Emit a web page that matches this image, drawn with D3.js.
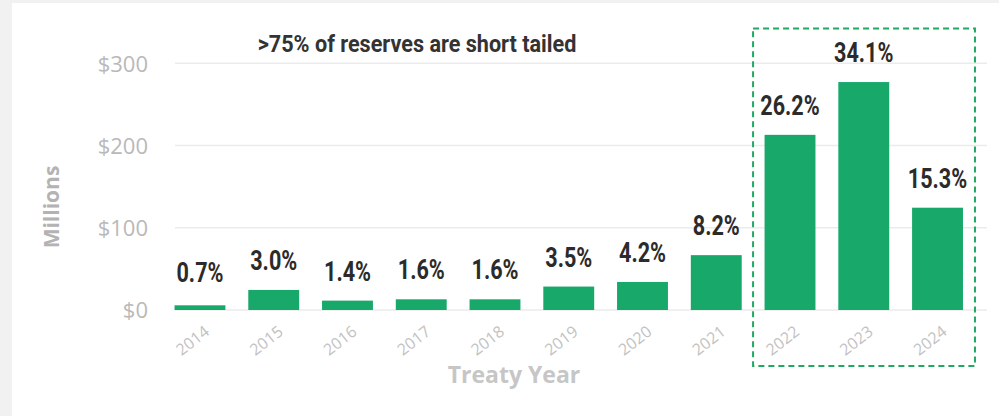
<!DOCTYPE html>
<html>
<head>
<meta charset="utf-8">
<script src="https://cdn.jsdelivr.net/npm/d3@7"></script>
<style>
  html, body { margin: 0; padding: 0; background: #f1f1f1; }
  svg { display: block; }
</style>
</head>
<body>
<svg id="chart" width="999" height="416"></svg>
<script>
// Treaty years and reserves (USD millions) with each year's share of total reserves
const years = ["2014", "2015", "2016", "2017", "2018", "2019", "2020", "2021", "2022", "2023", "2024"];
const reserves = [5.7, 24.4, 11.4, 13.0, 13.0, 28.5, 34.1, 66.7, 213.0, 277.2, 124.4];
const shares = ["0.7%", "3.0%", "1.4%", "1.6%", "1.6%", "3.5%", "4.2%", "8.2%", "26.2%", "34.1%", "15.3%"];
const yTicks = [0, 100, 200, 300];
const highlightYears = ["2022", "2023", "2024"];
const title = ">75% of reserves are short tailed";

const W = 999, H = 416;
const svg = d3.select("#chart");

const barColor = "#18a86a";
const heading = "Roboto, 'Liberation Sans', sans-serif";
const sans = "'Open Sans', 'Noto Sans', sans-serif";
const narrow = 0.8; // horizontal squeeze for the condensed headline look

// card background
svg.append("rect").attr("x", 0).attr("y", 0).attr("width", W).attr("height", H).attr("fill", "#f1f1f1");
svg.append("rect").attr("x", 12).attr("y", 3).attr("width", W - 12).attr("height", H - 3).attr("fill", "#ffffff");

const x = d3.scaleBand().domain(years).range([163.1, 974.4]).paddingInner(0.31).paddingOuter(0.155);
const y = d3.scaleLinear().domain([0, 300]).range([310, 63.3]);

const gridLeft = 175, gridRight = 987;

// horizontal gridlines
svg.append("g").selectAll("line").data(yTicks).join("line")
  .attr("x1", gridLeft).attr("x2", gridRight)
  .attr("y1", d => y(d)).attr("y2", d => y(d))
  .attr("stroke", "#ebebeb").attr("stroke-width", 1.5);

// y axis labels
const yAxis = svg.append("g").attr("transform", `translate(148,0)`)
  .call(d3.axisLeft(y).tickValues(yTicks).tickSize(0).tickPadding(0).tickFormat(d => "$" + d));
yAxis.select(".domain").remove();
yAxis.selectAll("text")
  .attr("fill", "#b9b9b9").attr("font-family", sans).attr("font-size", 22)
  .attr("dy", "0.36em");

// x axis labels, rotated
const xAxis = svg.append("g").attr("transform", `translate(0,${y(0)})`)
  .call(d3.axisBottom(x).tickSize(0).tickPadding(0));
xAxis.select(".domain").remove();
xAxis.selectAll("text")
  .attr("fill", "#c2c2c2").attr("font-family", sans).attr("font-size", 16)
  .attr("text-anchor", "middle").attr("dy", null).attr("y", null)
  .attr("transform", "translate(-4,35) rotate(-38)");

// bars
svg.append("g").selectAll("rect").data(years).join("rect")
  .attr("x", d => x(d))
  .attr("width", x.bandwidth())
  .attr("y", (d, i) => y(reserves[i]))
  .attr("height", (d, i) => y(0) - y(reserves[i]))
  .attr("fill", barColor);

// share labels above bars
svg.append("g").selectAll("text").data(years).join("text")
  .attr("transform", (d, i) =>
    `translate(${x(d) + x.bandwidth() / 2},${Math.min(y(reserves[i]), y(0) - 8) - 20}) scale(${narrow},1)`)
  .attr("text-anchor", "middle")
  .attr("font-family", heading).attr("font-weight", "bold").attr("font-size", 27)
  .attr("fill", "#2b2b2b")
  .text((d, i) => shares[i]);

// dashed box around the recent treaty years
const hx0 = x(highlightYears[0]) - 11.5;
const hx1 = x(highlightYears[highlightYears.length - 1]) + x.bandwidth() + 12;
svg.append("rect")
  .attr("x", hx0).attr("y", 28.5)
  .attr("width", hx1 - hx0).attr("height", 366 - 28.5)
  .attr("fill", "none").attr("stroke", "#22a862").attr("stroke-width", 2)
  .attr("stroke-dasharray", "6,4");

// title
svg.append("text")
  .attr("transform", `translate(417,52) scale(0.9,1)`)
  .attr("text-anchor", "middle")
  .attr("font-family", heading).attr("font-weight", "bold").attr("font-size", 24)
  .attr("fill", "#333333")
  .text(title);

// axis titles
svg.append("text")
  .attr("transform", "translate(59,207) rotate(-90)")
  .attr("text-anchor", "middle")
  .attr("font-family", sans).attr("font-weight", "bold").attr("font-size", 21)
  .attr("fill", "#b3b3b3")
  .text("Millions");

svg.append("text")
  .attr("x", 514).attr("y", 383)
  .attr("text-anchor", "middle")
  .attr("font-family", sans).attr("font-weight", "bold").attr("font-size", 23)
  .attr("fill", "#c6c6c6")
  .text("Treaty Year");
</script>
</body>
</html>
